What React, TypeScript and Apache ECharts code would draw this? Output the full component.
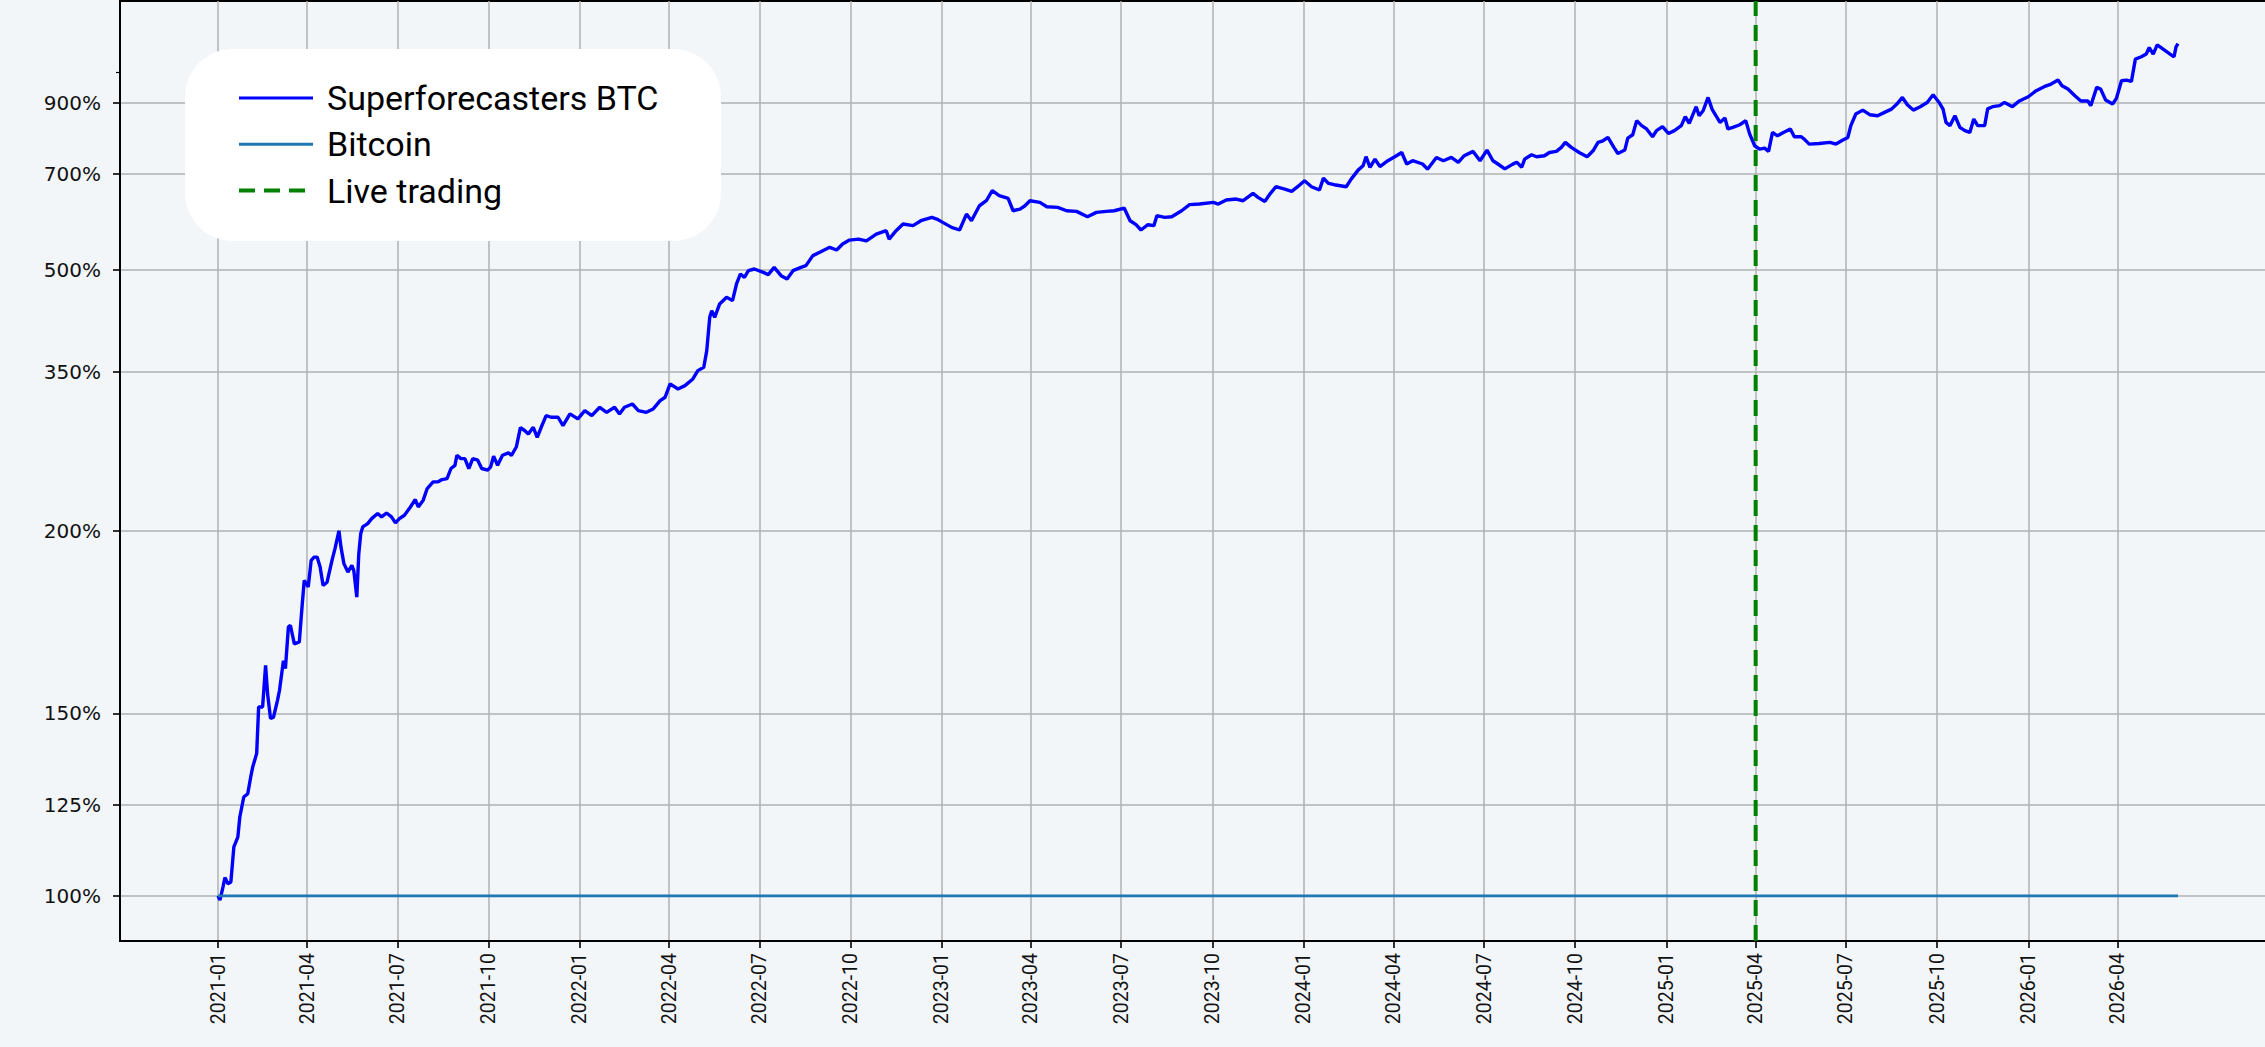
import React, { useEffect, useRef } from "react";
import * as echarts from "echarts";

// ---- data (days counted from START_DATE, values in % of starting capital) ----
const START_DATE = "2021-01-01";
const LIVE_TRADING_DATE = "2025-04-01";

const sfDays = [
  0, 2, 5, 7, 10, 13, 16, 20, 22, 26, 30, 33, 35, 39, 41, 45, 48, 50, 53, 56, 60, 62, 66, 68, 71, 73, 77, 82, 85, 87,
  91, 94, 97, 100, 103, 106, 110, 115, 118, 122, 124, 127, 131, 135, 137, 140, 142, 144, 146, 151, 155, 161, 165, 170,
  175, 179, 183, 188, 193, 199, 202, 207, 211, 217, 222, 226, 231, 235, 239, 241, 245, 249, 253, 257, 262, 266, 272,
  275, 278, 282, 287, 293, 296, 301, 305, 309, 313, 318, 322, 326, 331, 336, 343, 348, 355, 363, 370, 377, 385, 392,
  400, 405, 410, 418, 424, 432, 439, 446, 451, 456, 464, 471, 479, 484, 490, 493, 496, 498, 501, 506, 513, 519, 523,
  527, 531, 535, 541, 550, 555, 561, 568, 574, 580, 588, 593, 600, 607, 617, 624, 630, 637, 646, 654, 664, 674, 677,
  684, 691, 701, 709, 720, 725, 731, 740, 748, 755, 760, 768, 775, 781, 788, 797, 802, 809, 814, 819, 829, 836, 847,
  856, 866, 877, 886, 896, 904, 914, 920, 926, 931, 938, 944, 947, 955, 962, 972, 980, 990, 1004, 1009, 1017, 1027,
  1034, 1044, 1049, 1056, 1061, 1067, 1076, 1083, 1089, 1096, 1103, 1111, 1115, 1120, 1126, 1138, 1143, 1150, 1155,
  1158, 1162, 1167, 1172, 1180, 1187, 1194, 1199, 1205, 1215, 1220, 1229, 1236, 1244, 1251, 1257, 1266, 1273, 1280,
  1286, 1291, 1298, 1306, 1310, 1315, 1318, 1325, 1330, 1338, 1343, 1350, 1355, 1359, 1365, 1373, 1381, 1387, 1392,
  1397, 1402, 1408, 1412, 1419, 1422, 1427, 1431, 1436, 1441, 1447, 1451, 1457, 1463, 1469, 1476, 1480, 1484, 1491,
  1494, 1498, 1503, 1507, 1511, 1515, 1520, 1523, 1528, 1535, 1541, 1545, 1550, 1555, 1560, 1564, 1568, 1573, 1579,
  1586, 1590, 1597, 1600, 1605, 1615, 1626, 1632, 1639, 1644, 1647, 1652, 1659, 1666, 1674, 1681, 1688, 1694, 1699,
  1704, 1710, 1717, 1724, 1730, 1736, 1740, 1743, 1747, 1752, 1757, 1762, 1767, 1771, 1775, 1782, 1785, 1790, 1797,
  1802, 1810, 1817, 1826, 1834, 1842, 1849, 1856, 1860, 1866, 1873, 1879, 1886, 1889, 1895, 1899, 1904, 1911, 1915,
  1920, 1925, 1930, 1934, 1940, 1945, 1948, 1952, 1956, 1962, 1969, 1973, 1975, 1977,
];

const sfPct = [
  100, 98.8, 102.4, 105, 103.3, 103.8, 113.4, 116.1, 121.6, 127.1, 128, 132.6, 135.3, 139, 151.8, 151.8, 163.2, 155.4,
  148.6, 149, 153.6, 156.3, 164.5, 162.3, 173.7, 174.2, 169.1, 169.6, 180.1, 186.5,
  184.7, 192, 192.9, 192.9, 190.2, 185.1, 186, 192, 195.2, 200.3, 195.7, 191.1, 188.8, 190.6, 189.2, 181.9, 193.8,
  199.4, 203, 205.4, 209, 212.8, 210.3, 213.2,
  210.3, 205.9, 209, 211.5, 216.5, 223.5, 217.8, 223, 232.3, 237.8, 237.8, 239.7, 240.5, 249.2, 252, 261.1, 258, 258,
  249.2, 258, 256.6, 249.2, 247.7,
  250.6, 260.2, 252, 261.1, 263.3, 260.8, 269, 287.7, 285, 281.3, 288, 278, 288, 300, 298.3, 298.3, 289.7, 301.8, 296.6,
  305.4, 300, 308.9, 303.5,
  308.9, 301.8, 308.9, 312.5, 305.4, 303.5, 307.1, 316.2, 320, 335.3, 329.4, 333.3, 341.2, 351.3, 355.4, 376.8, 423.6,
  433.6, 423.6, 443.9, 454.4, 449.1, 476.1,
  493.1, 487.3, 498.9, 501.8, 495.9, 492, 504.7, 490.2, 484.6, 498.9, 504.7, 507.8, 525.9, 532.1, 541.5, 536.4, 547.7,
  555.4, 557.3, 554, 567.3, 574, 557.3,
  574, 587.6, 584.2, 594.4, 601.5, 598, 591, 580.7, 575.4, 608.5, 594.4, 626.5, 637.6, 660.5, 649, 643, 615.6, 619.3,
  626.5, 637.6, 633.9, 624.4, 622.9,
  615.6, 614.2, 602.9, 612.1, 614.2, 615.6, 621.5, 594.4, 586.2, 575.4, 586.2, 584.2, 605, 601.5, 602.9, 615.6, 628.9,
  630.3, 633.9, 630.3, 639.2, 641.4,
  637.6, 654.2, 645.2, 636.1, 652.7, 669.8, 664.3, 658.9, 669.8, 684, 669.8, 662, 690.3, 677.6, 674.5, 669.8, 687.9,
  709.9, 721,
  744.1, 716.8, 737.9, 718.9, 733.7, 744.1, 755.3, 725.3, 733.7, 725.3, 712.3, 742.2, 733.7, 742.2, 729.5, 746.7, 758.1,
  733.7, 761.6,
  733.7, 725.3, 713, 725, 730, 717, 737.9, 749.3, 744, 746.7, 755.3, 758, 768.8, 782.4, 768.8, 755.3, 744, 759.8, 782.4,
  786.9, 796.2, 768.8, 752.7, 761.6, 794.4, 803.6, 844.5, 829.9, 820.2, 798, 815.5, 826.8, 807.4, 815.5, 829.9, 856.4,
  836.2, 886.9,
  859.1, 874.3, 916.1, 879.3, 859.1, 839.2, 852.2, 820.2, 824.9, 832.4, 844.5, 805.5, 773.3, 764.3, 766.8, 758, 810.2,
  800.7, 810.2,
  820.2, 798, 798, 791.5, 777.8, 779.6, 782.4, 777.8, 788.8, 796.2, 829.9, 864.3, 876.3, 862.3, 859.1, 869.3, 879.3,
  897.1, 916.1,
  892.8, 876.3, 886.9, 900.2, 924.8, 900.2, 879.3, 839.2, 829.9, 859.1, 824.9, 815.5, 810.2, 849.3, 829.9, 829.9, 880,
  886.9, 890,
  900.2, 887, 905, 918.4, 938, 951.3, 960.1, 973.7, 954.6, 943.4, 921.8, 904.9, 904.9, 889.9, 949, 943.4, 907.7, 895,
  914.1,
  971.3, 973.7, 968.9, 1048, 1056.6, 1066.7, 1091.5, 1066.7, 1101.7, 1085.2, 1066.7, 1056.6, 1094, 1106.9,
];

const btcDays = [0, 1977];
const btcPct = [100, 100];

const xTickMonths = [
  "2021-01", "2021-04", "2021-07", "2021-10", "2022-01", "2022-04", "2022-07", "2022-10",
  "2023-01", "2023-04", "2023-07", "2023-10", "2024-01", "2024-04", "2024-07", "2024-10",
  "2025-01", "2025-04", "2025-07", "2025-10", "2026-01", "2026-04",
];
const yTickPct = [100, 125, 150, 200, 350, 500, 700, 900];
const yMinorTickPct = [1000];
const yRangePct = [87.6, 1285];

// ---- symmetric-log scale (linear below 200 %, log above) ----
const LINTHRESH = 200;
const LINSCALE = 1 / (1 - 1 / 10);
const symlog = (v: number) =>
  v <= LINTHRESH ? (v / LINTHRESH) * LINSCALE : LINSCALE + Math.log10(v / LINTHRESH);
const invSymlog = (f: number) =>
  f <= LINSCALE ? (f / LINSCALE) * LINTHRESH : LINTHRESH * Math.pow(10, f - LINSCALE);

const DAY = 86400000;
const t0 = Date.parse(START_DATE + "T00:00:00Z");
const toTime = (d: number) => t0 + d * DAY;
const monthToTime = (m: string) => Date.parse(m + "-01T00:00:00Z");
const fmtMonth = (v: number) => {
  const d = new Date(v);
  const mm = d.getUTCMonth() + 1;
  return d.getUTCFullYear() + "-" + (mm < 10 ? "0" + mm : "" + mm);
};

export default function App() {
  const ref = useRef<HTMLDivElement>(null);

  useEffect(() => {
    if (!ref.current) return;
    const chart = echarts.init(ref.current, undefined, { renderer: "svg" });

    const firstT = toTime(sfDays[0]);
    const lastT = toTime(sfDays[sfDays.length - 1]);
    const span = lastT - firstT;
    const xMin = firstT - 0.05 * span;
    const xMax = lastT + 0.05 * span;
    const yMin = symlog(yRangePct[0]);
    const yMax = symlog(yRangePct[1]);
    const xTicks = xTickMonths.map(monthToTime);
    const yTicks = yTickPct.map(symlog);
    const liveT = Date.parse(LIVE_TRADING_DATE + "T00:00:00Z");

    const option: any = {
      animation: false,
      backgroundColor: "#f3f6f9",
      grid: {
        left: 120,
        top: 1,
        width: 2156,
        height: 940,
        show: true,
        borderColor: "#000",
        borderWidth: 2,
        backgroundColor: "transparent",
        containLabel: false,
        outerBoundsMode: "none",
      },
      xAxis: {
        type: "value",
        min: xMin,
        max: xMax,
        axisLine: { show: true, lineStyle: { color: "#000", width: 2 } },
        axisTick: {
          show: true,
          inside: false,
          length: 7,
          lineStyle: { color: "#000", width: 1.6 },
          customValues: xTicks,
        },
        axisLabel: {
          customValues: xTicks,
          rotate: 90,
          formatter: (v: number) => fmtMonth(v),
          fontFamily: "Roboto",
          fontSize: 19.5,
          color: "#111",
          margin: 12,
        },
        splitLine: { show: true, lineStyle: { color: "#b0b0b0", width: 1.5 } },
      },
      yAxis: [
        {
          type: "value",
          min: yMin,
          max: yMax,
          axisLine: { show: true, lineStyle: { color: "#000", width: 2 } },
          axisTick: {
            show: true,
            inside: false,
            length: 7,
            lineStyle: { color: "#000", width: 1.6 },
            customValues: yTicks,
          },
          axisLabel: {
            customValues: yTicks,
            formatter: (v: number) => Math.round(invSymlog(v)) + "%",
            fontFamily: "DejaVu Sans",
            fontSize: 20,
            color: "#111",
            margin: 19,
          },
          splitLine: { show: true, lineStyle: { color: "#b0b0b0", width: 1.5 } },
        },
        {
          type: "value",
          min: yMin,
          max: yMax,
          position: "left",
          axisLine: { show: false },
          axisLabel: { show: false },
          splitLine: { show: false },
          axisTick: {
            show: true,
            inside: false,
            length: 4,
            lineStyle: { color: "#000", width: 1.2 },
            customValues: yMinorTickPct.map(symlog),
          },
        },
      ],
      legend: {
        orient: "vertical",
        left: 237,
        top: 78,
        padding: 0,
        itemWidth: 74,
        itemHeight: 2,
        itemGap: 6.3,
        z: 10,
        itemStyle: { opacity: 0 },
        textStyle: {
          fontFamily: "Roboto",
          fontSize: 34,
          color: "#000",
          lineHeight: 40,
          padding: [0, 0, 0, 9],
        },
        data: [
          { name: "Superforecasters BTC", lineStyle: { width: 3 } },
          { name: "Bitcoin", lineStyle: { width: 3 } },
          { name: "Live trading", lineStyle: { width: 4 } },
        ],
      },
      graphic: [
        {
          type: "rect",
          left: 185,
          top: 49,
          z: 8,
          shape: { width: 536, height: 192, r: 48 },
          style: { fill: "#ffffff" },
        },
      ],
      series: [
        {
          name: "Superforecasters BTC",
          type: "line",
          symbol: "none",
          showSymbol: false,
          data: sfDays.map((d, i) => [toTime(d), symlog(sfPct[i])]),
          lineStyle: { color: "#0000ff", width: 3.4 },
          itemStyle: { color: "#0000ff" },
          z: 3,
        },
        {
          name: "Bitcoin",
          type: "line",
          symbol: "none",
          showSymbol: false,
          data: btcDays.map((d, i) => [toTime(d), symlog(btcPct[i])]),
          lineStyle: { color: "#1f77b4", width: 2.7 },
          itemStyle: { color: "#1f77b4" },
          z: 4,
        },
        {
          name: "Live trading",
          type: "line",
          symbol: "none",
          showSymbol: false,
          data: [
            [liveT, yMin],
            [liveT, yMax],
          ],
          lineStyle: { color: "#008000", width: 4, type: [16, 9] },
          itemStyle: { color: "#008000" },
          z: 5,
        },
      ],
    };

    chart.setOption(option);
    return () => chart.dispose();
  }, []);

  return (
    <div
      ref={ref}
      style={{
        position: "fixed",
        left: 0,
        top: 0,
        width: 2265,
        height: 1047,
        background: "#f3f6f9",
      }}
    />
  );
}
